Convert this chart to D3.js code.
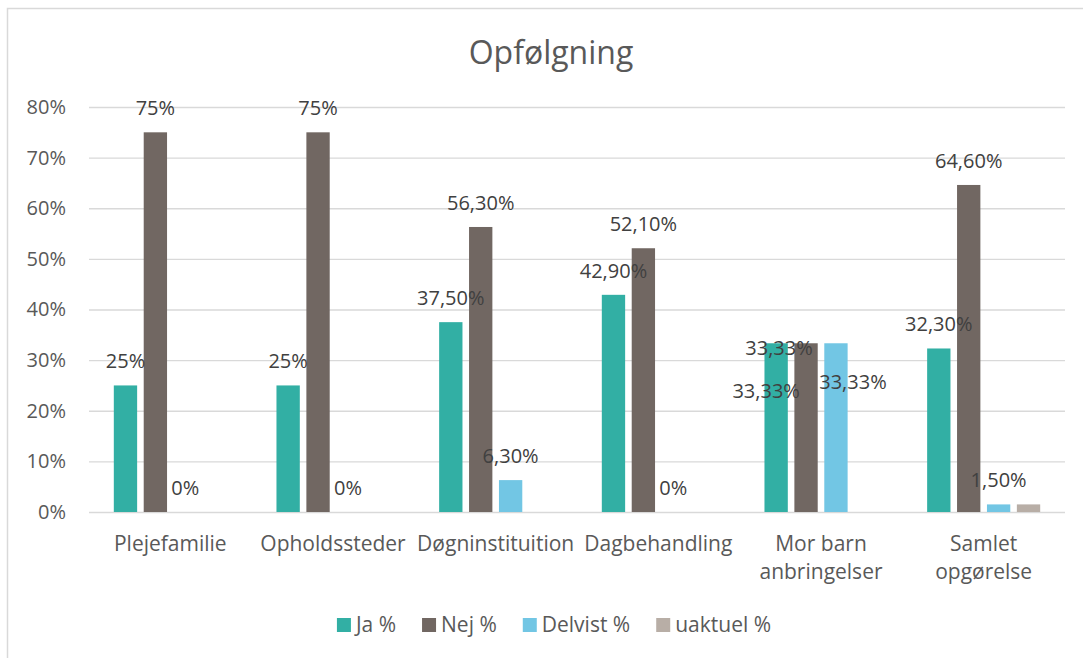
<!DOCTYPE html>
<html>
<head>
<meta charset="utf-8">
<script src="https://cdn.jsdelivr.net/npm/d3@7/dist/d3.min.js"></script>
<style>
  html, body { margin: 0; padding: 0; background: #ffffff; }
  svg { display: block; font-family: "Open Sans", "Noto Sans", sans-serif; }
</style>
</head>
<body>
<svg id="chart" width="1083" height="658"></svg>
<script>
// Follow-up outcomes per placement type (percent)
const title = "Opfølgning";
const categories = ["Plejefamilie", "Opholdssteder", "Døgninstituition", "Dagbehandling", "Mor barn anbringelser", "Samlet opgørelse"];
const seriesNames = ["Ja %", "Nej %", "Delvist %", "uaktuel %"];
const jaValues      = [25, 25, 37.5, 42.9, 33.33, 32.3];
const nejValues     = [75, 75, 56.3, 52.1, 33.33, 64.6];
const delvistValues = [0, 0, 6.3, 0, 33.33, 1.5];
const uaktuelValues = [null, null, null, null, null, 1.5];
const yTicks = [0, 10, 20, 30, 40, 50, 60, 70, 80];

const seriesColors = ["#32afa4", "#716762", "#72c6e4", "#b8aea6"];
const showLabels = [true, true, true, false];
// hand-placed labels in the "Mor barn" group (pixel nudges from the default spot)
const labelNudge = { "0-4": [-10, 72], "1-4": [-27, 29], "2-4": [17, 63] };

const seriesValues = [jaValues, nejValues, delvistValues, uaktuelValues];

const svg = d3.select("#chart");
const W = 1083, H = 658;
const plot = { left: 89, right: 1065, top: 107, bottom: 512 };

// chart frame
svg.append("rect")
  .attr("x", 7.5).attr("y", 8.5)
  .attr("width", 1090).attr("height", 670)
  .attr("fill", "#fff").attr("stroke", "#d9d9d9").attr("stroke-width", 1.5);

const x0 = d3.scaleBand().domain(categories)
  .range([plot.left, plot.right]).paddingInner(0.305).paddingOuter(0.1525);
const x1 = d3.scaleBand().domain(d3.range(seriesNames.length))
  .range([0, x0.bandwidth()]).paddingInner(0.22).paddingOuter(0);
const y = d3.scaleLinear().domain([0, 80]).range([plot.bottom, plot.top]);

// gridlines + y tick labels via axis
const yAxis = d3.axisLeft(y).tickValues(yTicks)
  .tickSize(-(plot.right - plot.left)).tickPadding(23)
  .tickFormat(d => d + "%");
const gy = svg.append("g").attr("transform", `translate(${plot.left},0)`).call(yAxis);
gy.select(".domain").remove();
gy.selectAll(".tick line").attr("stroke", "#d9d9d9").attr("stroke-width", 1.3);
gy.selectAll(".tick text")
  .attr("fill", "#595959").style("font-size", "20px")
  .style("font-family", "'Open Sans', sans-serif");

// bars
const groups = svg.append("g").selectAll("g")
  .data(categories).join("g")
  .attr("transform", d => `translate(${x0(d)},0)`);

groups.selectAll("rect")
  .data((c, ci) => seriesValues.map((vals, si) => ({ si, ci, v: vals[ci] })).filter(d => d.v !== null))
  .join("rect")
  .attr("x", d => x1(d.si))
  .attr("width", x1.bandwidth())
  .attr("y", d => y(d.v))
  .attr("height", d => y(0) - y(d.v))
  .attr("fill", d => seriesColors[d.si]);

// data labels
function fmt(v) {
  if (Number.isInteger(v)) return v + "%";
  return v.toFixed(2).replace(".", ",") + "%";
}
const labelData = [];
seriesValues.forEach((vals, si) => {
  if (!showLabels[si]) return;
  vals.forEach((v, ci) => { if (v !== null) labelData.push({ si, ci, v }); });
});
svg.append("g").selectAll("text")
  .data(labelData).join("text")
  .attr("x", d => x0(categories[d.ci]) + x1(d.si) + x1.bandwidth() / 2 + (labelNudge[d.si + "-" + d.ci] || [0, 0])[0])
  .attr("y", d => y(d.v) - 17 + (labelNudge[d.si + "-" + d.ci] || [0, 0])[1])
  .attr("text-anchor", "middle")
  .attr("fill", "#404040")
  .style("font-size", "20px")
  .text(d => fmt(d.v));

// category labels, wrapped to the band width
const catG = svg.append("g");
categories.forEach(c => {
  const t = catG.append("text")
    .attr("x", x0(c) + x0.bandwidth() / 2)
    .attr("y", 551)
    .attr("text-anchor", "middle")
    .attr("fill", "#595959")
    .style("font-size", "21px");
  const words = c.split(" ");
  let line = [];
  let tspan = t.append("tspan").attr("x", x0(c) + x0.bandwidth() / 2).attr("dy", 0);
  let lineNo = 0;
  words.forEach(w => {
    line.push(w);
    tspan.text(line.join(" "));
    if (tspan.node().getComputedTextLength() > x0.step() && line.length > 1) {
      line.pop();
      tspan.text(line.join(" "));
      line = [w];
      lineNo++;
      tspan = t.append("tspan").attr("x", x0(c) + x0.bandwidth() / 2).attr("dy", 28).text(w);
    }
  });
});

// title
svg.append("text")
  .attr("x", 551).attr("y", 64)
  .attr("text-anchor", "middle")
  .attr("fill", "#595959")
  .style("font-size", "32px")
  .text(title);

// legend, centred below the plot
const legend = svg.append("g");
const items = seriesNames.map((name, i) => {
  const g = legend.append("g");
  g.append("rect").attr("width", 14).attr("height", 14).attr("y", 618).attr("fill", seriesColors[i]);
  const t = g.append("text").attr("x", 19).attr("y", 632)
    .attr("fill", "#595959").style("font-size", "21px").text(name);
  return { g, w: 19 + t.node().getComputedTextLength() };
});
const gap = 26;
const total = d3.sum(items, d => d.w) + gap * (items.length - 1);
let cx = 554 - total / 2;
items.forEach(it => {
  it.g.attr("transform", `translate(${cx},0)`);
  cx += it.w + gap;
});
</script>
</body>
</html>
